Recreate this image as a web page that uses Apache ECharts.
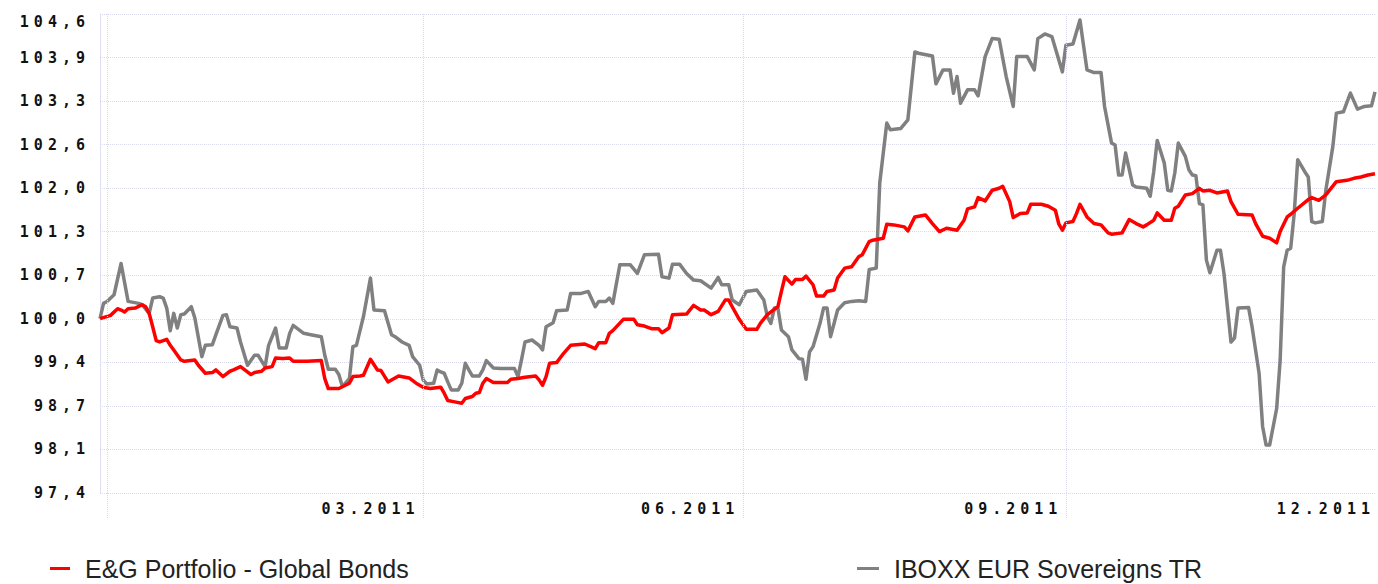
<!DOCTYPE html>
<html>
<head>
<meta charset="utf-8">
<script src="https://cdn.jsdelivr.net/npm/echarts@6/dist/echarts.min.js"></script>
<style>
  html, body { margin: 0; padding: 0; background: #ffffff; }
  #chart { width: 1378px; height: 584px; }
  #chart text[style*="DejaVu Sans Mono"] { letter-spacing: 5px; }
</style>
</head>
<body>
<div id="chart"></div>
<script>
// Days are counted from 2011-01-01 (day 0).
const seriesNames = ['E&G Portfolio - Global Bonds', 'IBOXX EUR Sovereigns TR'];

const portfolioDays = [-2,1,3,4,5,6,8,10,11,12,13,14,15,17,18,19,21,22,25,26,28,30,31,33,35,36,38,41,42,44,45,47,48,50,52,53,57,61,62,63,66,69,70,72,73,75,77,78,80,83,86,88,90,92,95,96,97,99,101,102,104,105,106,107,108,110,114,115,117,119,122,123,124,125,126,128,130,132,136,139,140,142,143,144,147,150,151,153,155,157,158,160,161,165,167,169,170,172,174,176,177,178,180,182,185,186,188,191,192,193,195,196,198,199,201,202,204,205,207,208,210,212,214,215,217,218,221,222,224,227,228,230,233,235,237,239,242,244,245,247,248,250,252,254,255,257,258,260,262,263,266,268,270,271,272,273,275,276,277,279,281,283,285,286,289,291,293,295,296,298,299,301,303,304,305,307,309,311,312,314,316,319,320,322,326,327,329,331,333,334,336,337,339,342,343,345,347,350,353,355,357,359,361];
const portfolioValues = [100.02,100.07,100.17,100.15,100.12,100.17,100.18,100.23,100.20,100.10,99.90,99.69,99.67,99.71,99.62,99.55,99.40,99.38,99.40,99.32,99.20,99.21,99.25,99.15,99.23,99.25,99.30,99.18,99.21,99.23,99.28,99.30,99.43,99.42,99.43,99.38,99.38,99.39,99.12,98.97,98.97,99.05,99.15,99.16,99.17,99.41,99.25,99.24,99.07,99.16,99.13,99.05,98.99,98.97,98.99,98.90,98.79,98.77,98.75,98.82,98.85,98.90,98.91,99.05,99.12,99.06,99.06,99.11,99.12,99.14,99.16,99.10,99.02,99.15,99.35,99.36,99.50,99.62,99.64,99.57,99.66,99.66,99.80,99.84,100.01,100.01,99.93,99.91,99.87,99.87,99.81,99.88,100.08,100.09,100.22,100.15,100.15,100.08,100.13,100.30,100.30,100.20,100.01,99.86,99.86,99.95,100.08,100.20,100.43,100.65,100.54,100.61,100.61,100.66,100.53,100.36,100.36,100.43,100.45,100.63,100.78,100.80,100.95,100.98,101.18,101.20,101.23,101.44,101.43,101.40,101.34,101.55,101.58,101.45,101.33,101.38,101.35,101.50,101.67,101.70,101.84,101.79,101.95,101.98,102.01,101.78,101.54,101.60,101.61,101.74,101.74,101.71,101.65,101.44,101.35,101.46,101.48,101.60,101.74,101.55,101.45,101.43,101.31,101.29,101.31,101.51,101.45,101.40,101.43,101.50,101.61,101.50,101.50,101.68,101.71,101.88,101.90,101.98,101.94,101.95,101.91,101.94,101.78,101.59,101.58,101.45,101.26,101.23,101.16,101.33,101.55,101.59,101.68,101.81,101.84,101.80,101.88,102.08,102.10,102.13,102.15,102.18,102.20];

const iboxxDays = [-2,-1,0,2,4,6,9,10,12,13,15,16,17,18,19,20,21,22,24,25,27,28,30,31,33,34,35,37,38,40,42,43,45,46,48,49,51,52,53,56,58,61,62,63,65,66,67,69,70,71,73,75,76,79,81,82,84,86,87,89,90,91,93,94,95,96,97,98,100,101,102,103,104,106,107,108,110,112,116,117,118,119,121,123,124,125,127,128,131,132,135,137,139,140,142,143,144,146,147,149,151,153,157,158,160,161,163,165,167,169,172,174,175,177,178,180,182,185,187,188,189,190,191,192,194,195,197,198,199,200,201,203,204,205,206,208,210,212,214,216,217,219,220,222,223,226,228,230,231,235,236,238,240,241,242,243,245,247,248,250,252,254,256,258,259,262,264,265,267,269,272,273,275,277,279,281,283,284,286,287,288,289,290,292,293,296,297,298,299,301,302,303,304,305,307,308,309,310,311,312,313,314,316,317,318,320,321,322,325,326,328,329,330,331,333,334,335,336,337,338,339,341,342,343,344,346,347,349,350,352,354,356,358,360,361];
const iboxxValues = [100.02,100.25,100.28,100.38,100.85,100.28,100.25,100.23,100.10,100.33,100.35,100.33,100.18,99.84,100.10,99.88,100.08,100.09,100.20,100.03,99.45,99.62,99.63,99.78,100.07,100.08,99.90,99.88,99.67,99.32,99.47,99.47,99.30,99.62,99.88,99.58,99.58,99.80,99.92,99.80,99.78,99.75,99.47,99.26,99.26,99.18,99.00,99.12,99.60,99.62,100.05,100.63,100.15,100.14,99.78,99.75,99.67,99.62,99.45,99.32,99.10,99.04,99.05,99.25,99.22,99.20,99.07,98.95,98.95,99.05,99.35,99.25,99.16,99.16,99.25,99.39,99.28,99.27,99.27,99.15,99.40,99.67,99.70,99.62,99.55,99.90,99.96,100.14,100.15,100.40,100.40,100.43,100.20,100.28,100.28,100.33,100.25,100.83,100.83,100.83,100.70,100.98,100.99,100.65,100.63,100.84,100.84,100.70,100.60,100.59,100.48,100.64,100.53,100.53,100.30,100.23,100.43,100.45,100.30,100.05,99.95,100.18,100.18,99.85,99.75,99.55,99.42,99.41,99.11,99.52,99.60,99.95,100.18,100.18,99.75,100.15,100.26,100.28,100.29,100.28,100.76,100.78,102.06,102.96,102.86,102.88,103.01,104.03,104.01,103.97,103.55,103.76,103.76,103.41,103.66,103.26,103.46,103.46,103.37,103.96,104.23,104.22,103.66,103.21,103.96,103.96,103.76,104.23,104.30,104.26,103.73,104.13,104.15,104.51,103.76,103.72,103.72,103.21,102.66,102.63,102.18,102.18,102.51,102.03,102.00,101.98,101.86,102.23,102.70,102.36,101.95,101.94,102.21,102.66,102.46,102.26,102.18,102.17,101.75,101.73,100.90,100.71,101.05,101.05,100.70,99.67,99.73,100.18,100.19,99.90,99.20,98.40,98.12,98.12,98.67,99.40,100.80,101.05,101.08,101.60,102.41,102.23,102.15,101.48,101.46,101.48,101.95,102.61,103.11,103.13,103.41,103.17,103.21,103.22,103.43];

// Axis ranges and ticks (days from 2011-01-01)
const xStartDay = -2, xEndDay = 361;
const quarterStartDays = [0, 90, 181, 273];        // 01.01, 01.04, 01.07, 01.10
const monthLabelDays = [89, 180, 272, 361];        // labels 03, 06, 09, 12 (end of month)
const yMin = 97.4, yMax = 104.6, yTickCount = 11;

const DAY = 86400000;
const base = Date.UTC(2011, 0, 1);
const ts = d => base + d * DAY;
const pair = (days, vals) => days.map((d, i) => [ts(d), vals[i]]);

const gridColor = '#d9d9ee';
const labelFont = { color: '#111111', fontFamily: 'DejaVu Sans Mono', fontWeight: 'bold', fontSize: 15 };
const legendText = { fontFamily: 'Liberation Sans', fontSize: 25, lineHeight: 24, color: '#222222', padding: [0, 0, 0, 10] };

const chart = echarts.init(document.getElementById('chart'), null, { renderer: 'svg' });

chart.setOption({
  animation: false,
  backgroundColor: '#ffffff',
  grid: { left: 100, right: 0, top: 14, bottom: 91 },
  xAxis: {
    type: 'value',
    min: ts(xStartDay),
    max: ts(xEndDay),
    axisLine: { show: false },
    axisTick: {
      show: true,
      customValues: quarterStartDays.map(ts),
      length: 25,
      inside: false,
      lineStyle: { color: gridColor, type: 'dotted', width: 1 }
    },
    splitLine: { show: false },
    axisLabel: Object.assign({
      customValues: monthLabelDays.map(ts),
      showMinLabel: true,
      showMaxLabel: true,
      align: 'right',
      margin: 8,
      formatter: function (v) {
        const d = new Date(v);
        const m = d.getUTCMonth() + 1;
        return (m < 10 ? '0' + m : '' + m) + '.' + d.getUTCFullYear();
      }
    }, labelFont)
  },
  yAxis: {
    type: 'value',
    min: yMin,
    max: yMax,
    interval: (yMax - yMin) / yTickCount,
    axisLine: { show: true, lineStyle: { color: gridColor, type: 'dotted', width: 1 } },
    axisTick: { show: false },
    splitLine: { show: true, lineStyle: { color: gridColor, type: 'dotted', width: 1 } },
    axisLabel: Object.assign({
      margin: 10,
      verticalAlignMaxLabel: 'top',
      formatter: v => v.toFixed(1).replace('.', ',')
    }, labelFont)
  },
  legend: [
    {
      left: 45, top: 551,
      data: [seriesNames[0]],
      icon: 'rect',
      itemWidth: 20, itemHeight: 3,
      textStyle: legendText
    },
    {
      left: 852, top: 551,
      data: [seriesNames[1]],
      icon: 'rect',
      itemWidth: 22, itemHeight: 3,
      textStyle: legendText
    }
  ],
  series: [
    {
      name: seriesNames[1],
      type: 'line',
      data: pair(iboxxDays, iboxxValues),
      showSymbol: false,
      symbol: 'none',
      lineStyle: { color: '#808080', width: 3.5, join: 'round' },
      itemStyle: { color: '#808080' },
      z: 2,
      markLine: {
        silent: true,
        symbol: ['none', 'none'],
        label: { show: false },
        lineStyle: { color: gridColor, type: 'dotted', width: 1 },
        data: quarterStartDays.map(d => ({ xAxis: ts(d) }))
      }
    },
    {
      name: seriesNames[0],
      type: 'line',
      data: pair(portfolioDays, portfolioValues),
      showSymbol: false,
      symbol: 'none',
      lineStyle: { color: '#ff0000', width: 3.5, join: 'round' },
      itemStyle: { color: '#ff0000' },
      z: 3
    }
  ]
});
</script>
</body>
</html>
